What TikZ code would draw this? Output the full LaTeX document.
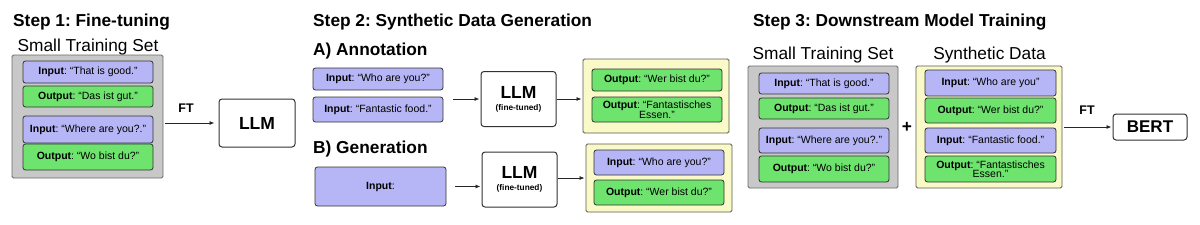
\documentclass[tikz,border=0pt]{standalone}
\usepackage{fontspec}
\setmainfont{Liberation Sans}
\usetikzlibrary{arrows.meta}
\frenchspacing
\definecolor{lav}{RGB}{182,182,246}
\definecolor{grn}{RGB}{110,228,110}
\definecolor{yel}{RGB}{250,250,200}
\definecolor{gfill}{RGB}{200,200,200}
\definecolor{gbd}{RGB}{105,105,105}
\definecolor{ybd}{RGB}{90,90,80}
\definecolor{bd}{RGB}{50,50,50}
\begin{document}
\begin{tikzpicture}[x=1pt,y=-1pt,
  wh/.style 2 args={minimum width=#1pt, minimum height=#2pt},
  box/.style={draw=bd, rounded corners=2.5pt, line width=0.8pt, inner sep=1pt, align=center, font=\fontsize{10.5}{11.5}\selectfont},
  inb/.style={box, fill=lav},
  outb/.style={box, fill=grn},
  grp/.style={draw=gbd, fill=gfill, rounded corners=1.5pt, line width=0.9pt},
  ylw/.style={draw=ybd, fill=yel, rounded corners=1.5pt, line width=0.9pt},
  model/.style={draw=bd, fill=white, rounded corners=3pt, line width=1pt, align=center, inner sep=0pt, font=\bfseries\fontsize{17.5}{18}\selectfont},
  head/.style={font=\bfseries\fontsize{17.3}{18}\selectfont, inner sep=0pt},
  sub/.style={font=\fontsize{17.3}{18}\selectfont, inner sep=0pt},
  arr/.style={-{Latex[length=5pt,width=4pt]}, line width=0.8pt, draw=black!85},
  lbl/.style={font=\bfseries\fontsize{12.5}{13}\selectfont, inner sep=0pt}
]
\useasboundingbox (0,0) rectangle (1200,225);

% ---------- Step 1 ----------
\node[head, anchor=base west] (t1) at (13,26) {Step 1: Fine-tuning};
\node[sub, anchor=base] (s1) at (88,51) {Small Training Set};
\node[grp, wh={151}{123}] (g1) at (87.5,116.5) {};
\node[inb, wh={130}{22}] (i1) at (88,72) {\textbf{Input}: “That is good.”};
\node[outb, wh={130}{21}] (o1) at (88,96.5) {\textbf{Output}: “Das ist gut.”};
\node[inb, wh={130}{27}] (i2) at (88,129.5) {\textbf{Input}: “Where are you?.”};
\node[outb, wh={130}{26}] (o2) at (88,157) {\textbf{Output}: “Wo bist du?”};
\node[model, wh={76}{48}] (llm1) at (257,123) {LLM};
\node[lbl] (ft1) at (186,108) {FT};
\draw[arr, shorten <=2pt, shorten >=4pt] (g1.east |- llm1.west) -- (llm1.west);

% ---------- Step 2 ----------
\node[head, anchor=base west] (t2) at (313,26) {Step 2: Synthetic Data Generation};
\node[head, anchor=base west] (tA) at (313,55) {A) Annotation};
\node[inb, wh={130}{22}] (ia1) at (378,79) {\textbf{Input}: “Who are you?”};
\node[inb, wh={130}{25}] (ia2) at (378,109.5) {\textbf{Input}: “Fantastic food.”};
\node[model, wh={75}{55}] (llmA) at (518.5,99) {LLM\\[-6pt]{\fontsize{8.3}{9}\selectfont (fine-tuned)}};
\coordinate (aA) at (453,99);
\draw[arr, shorten >=1pt] (aA) -- (llmA.west);
\node[ylw, wh={146}{74}] (yA) at (656,96) {};
\node[outb, wh={130}{22}] (oa1) at (657,80) {\textbf{Output}: “Wer bist du?”};
\node[outb, wh={130}{25}] (oa2) at (657,109.5) {\textbf{Output}: “Fantastisches\\[-2pt] Essen.”};
\draw[arr, shorten >=1pt] (llmA.east) -- (llmA.east -| yA.west);

\node[head, anchor=base west] (tB) at (313,153) {B) Generation};
\node[inb, wh={131}{39}] (ib) at (380.5,186.5) {\textbf{Input}:};
\node[model, wh={75}{55}] (llmB) at (519.5,179.5) {LLM\\[-6pt]{\fontsize{8.3}{9}\selectfont (fine-tuned)}};
\draw[arr, shorten <=9pt, shorten >=1pt] (ib.east) -- (ib.east -| llmB.west);
\node[ylw, wh={146}{68}] (yB) at (659,178) {};
\node[inb, wh={130}{25}] (ob1) at (659,162.5) {\textbf{Input}: “Who are you?”};
\node[outb, wh={130}{25}] (ob2) at (659,192.5) {\textbf{Output}: “Wer bist du?”};
\draw[arr, shorten >=1pt] (llmB.east |- yB.west) -- (yB.west);

% ---------- Step 3 ----------
\node[head, anchor=base west] (t3) at (753,26) {Step 3: Downstream Model Training};
\node[sub, anchor=base] (s3) at (823,59) {Small Training Set};
\node[grp, wh={150}{122}] (g3) at (823,127) {};
\node[inb, wh={130}{21}] (j1) at (824,83.5) {\textbf{Input}: “That is good.”};
\node[outb, wh={130}{21}] (j2) at (824,108.5) {\textbf{Output}: “Das ist gut.”};
\node[inb, wh={130}{25}] (j3) at (824,140.5) {\textbf{Input}: “Where are you?.”};
\node[outb, wh={130}{26}] (j4) at (824,169) {\textbf{Output}: “Wo bist du?”};
\node[head] (plus) at (907,127) {+};
\node[sub, anchor=base] (s4) at (989.5,59) {Synthetic Data};
\node[ylw, wh={146}{122}] (y3) at (989,127) {};
\node[inb, wh={131}{26}] (k1) at (990.5,83) {\textbf{Input}: “Who are you”};
\node[outb, wh={131}{25}] (k2) at (990.5,110.5) {\textbf{Output}: “Wer bist du?”};
\node[inb, wh={131}{25}] (k3) at (990.5,140.5) {\textbf{Input}: “Fantastic food.”};
\node[outb, wh={131}{26}] (k4) at (990.5,169) {\textbf{Output}: “Fantastisches\\[-2pt] Essen.”};
\node[model, wh={74}{26}, font=\bfseries\fontsize{17}{18}\selectfont] (bert) at (1150,127) {BERT};
\node[lbl] (ft2) at (1087,110) {FT};
\draw[arr, shorten <=2pt, shorten >=1pt] (y3.east) -- (bert.west);
\end{tikzpicture}
\end{document}
